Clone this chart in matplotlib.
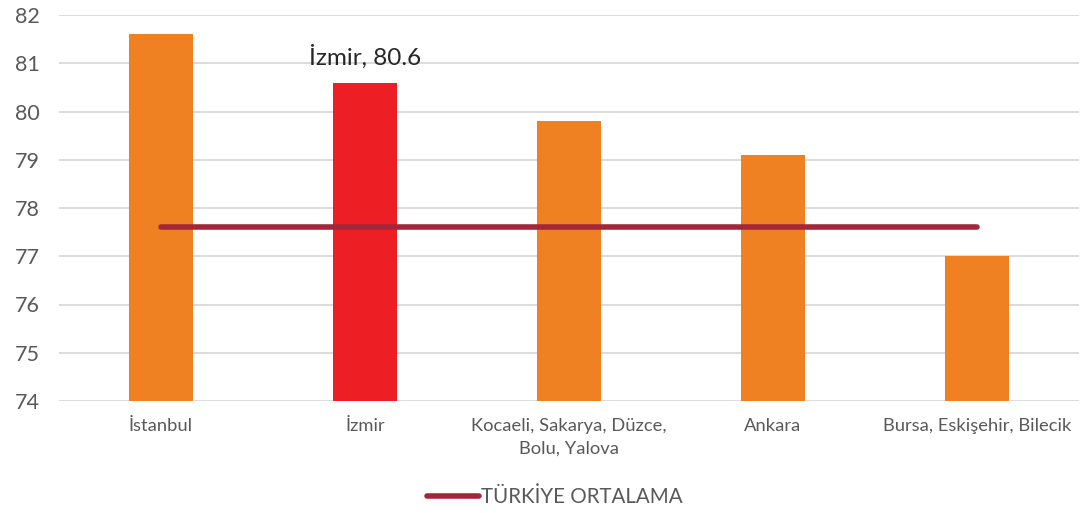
import numpy as np
from matplotlib import pyplot as plt

categories = ['İstanbul', 'İzmir', 'Kocaeli, Sakarya, Düzce,\nBolu, Yalova', 'Ankara', 'Bursa, Eskişehir, Bilecik']
values = [81.6, 80.6, 79.8, 79.1, 77.0]
turkiye_avg = [77.6, 77.6, 77.6, 77.6, 77.6]
highlight = 'İzmir'

plt.rcParams['font.family'] = ['Lato', 'DejaVu Sans']

fig = plt.figure(figsize=(10.83, 5.13), dpi=100)
ax = fig.add_axes([59 / 1083, 1 - 401 / 513, 1020 / 1083, 386 / 513])

x = np.arange(len(categories))
colors = ['#EE1F24' if c == highlight else '#F08122' for c in categories]
ax.bar(x, np.array(values) - 74, bottom=74, width=0.31, color=colors, zorder=2)
line, = ax.plot(x, turkiye_avg, color='#A3263A', linewidth=4, solid_capstyle='round', zorder=3)

i = categories.index(highlight)
ax.annotate(f'{highlight}, {values[i]}', (x[i], values[i]), xytext=(0, 10), textcoords='offset points',
            ha='center', va='bottom', fontsize=17.5, color='#262626')

ax.set_xlim(-0.5, len(categories) - 0.5)
ax.set_ylim(74, 82)
ax.set_yticks(range(74, 83))
ax.set_xticks(x)
ax.set_xticklabels(categories, fontsize=13.2, color='#595959', linespacing=1.55)
ax.tick_params(axis='y', labelsize=15.5, colors='#595959', length=0, pad=14)
ax.tick_params(axis='x', length=0, pad=12)
ax.grid(axis='y', color='#D9D9D9', linewidth=1.3, zorder=0)
ax.set_axisbelow(True)
for s in ax.spines.values():
    s.set_visible(False)

fig.legend([line], ['TÜRKİYE ORTALAMA'], loc='center', bbox_to_anchor=(555 / 1083, 1 - 497 / 513),
           frameon=False, fontsize=14.8, labelcolor='#595959', handlelength=2.5, handletextpad=0.1)

fig.savefig('out.png', dpi=100)
